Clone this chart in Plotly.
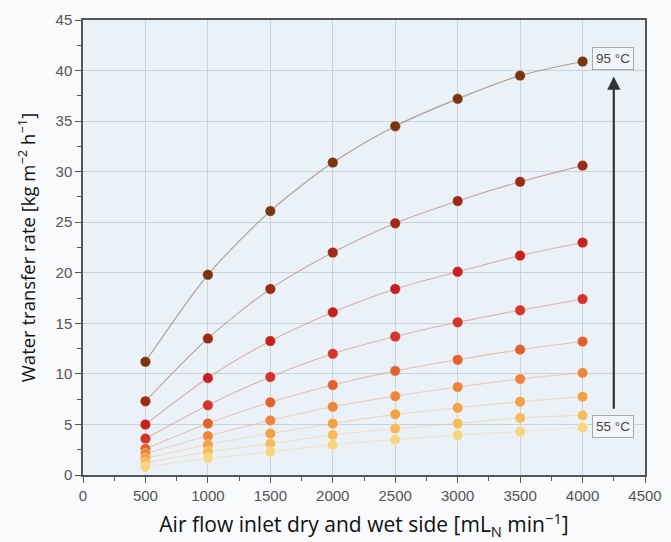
import plotly.graph_objects as go

air_flow = [500, 1000, 1500, 2000, 2500, 3000, 3500, 4000]
temperatures = ["95 °C", "90 °C", "85 °C", "80 °C", "75 °C", "70 °C", "65 °C", "60 °C", "55 °C"]
rate_95 = [11.2, 19.8, 26.1, 30.9, 34.5, 37.2, 39.5, 40.9]
rate_90 = [7.3, 13.5, 18.4, 22.0, 24.9, 27.1, 29.0, 30.6]
rate_85 = [5.0, 9.6, 13.25, 16.1, 18.4, 20.1, 21.7, 23.0]
rate_80 = [3.6, 6.9, 9.7, 12.0, 13.7, 15.1, 16.3, 17.4]
rate_75 = [2.6, 5.1, 7.2, 8.9, 10.3, 11.4, 12.4, 13.2]
rate_70 = [2.1, 3.85, 5.4, 6.75, 7.8, 8.7, 9.5, 10.1]
rate_65 = [1.65, 3.0, 4.1, 5.1, 6.0, 6.65, 7.25, 7.75]
rate_60 = [1.2, 2.3, 3.1, 3.95, 4.6, 5.1, 5.65, 5.9]
rate_55 = [0.8, 1.65, 2.3, 3.0, 3.5, 3.95, 4.3, 4.7]
series = [rate_95, rate_90, rate_85, rate_80, rate_75, rate_70, rate_65, rate_60, rate_55]

marker_colors = ["#7a3410", "#9c2a18", "#c4221e", "#d2352a", "#e0632e",
                 "#eb853a", "#f2a246", "#f6bb5c", "#f8d583"]
line_colors = ["rgba(150,110,80,0.65)", "rgba(170,90,80,0.5)", "rgba(200,90,90,0.45)",
               "rgba(215,100,90,0.45)", "rgba(230,130,90,0.45)", "rgba(240,150,100,0.4)",
               "rgba(245,175,110,0.4)", "rgba(247,190,120,0.4)", "rgba(248,205,140,0.4)"]

fig = go.Figure()
for name, vals, mc, lc in zip(temperatures, series, marker_colors, line_colors):
    fig.add_trace(go.Scatter(
        x=air_flow, y=vals, name=name, mode="lines+markers",
        line=dict(color=lc, width=1.1, shape="spline", smoothing=0.8),
        marker=dict(color=mc, size=10.5, line=dict(color="rgba(255,255,255,0.35)", width=1)),
        showlegend=False,
    ))

axis_common = dict(
    automargin=False,
    showline=True, linecolor="#555", linewidth=1.5, mirror=True,
    ticks="outside", ticklen=6, tickcolor="#555", tickwidth=1.2,
    showgrid=True, gridcolor="#c9d3dc", gridwidth=1, zeroline=False,
    tickfont=dict(family="Liberation Sans, Arial", size=15, color="#555"),
)

fig.update_xaxes(
    range=[0, 4500], dtick=500, tick0=0,
    minor=dict(ticks="outside", dtick=250, ticklen=4, tickcolor="#555", showgrid=False),
    title_text="Air flow inlet dry and wet side [mL<sub>N</sub> min<sup>−1</sup>]",
    title_font=dict(family="Open Sans, Noto Sans", size=21, color="#111"),
    **axis_common,
)
fig.update_yaxes(
    range=[0, 45], dtick=5, tick0=0,
    minor=dict(ticks="outside", dtick=2.5, ticklen=4, tickcolor="#555", showgrid=False),
    title_text="Water transfer rate [kg m<sup>−2</sup> h<sup>−1</sup>]",
    title_font=dict(family="Open Sans, Noto Sans", size=18.5, color="#111"),
    **axis_common,
)

fig.add_annotation(
    x=4250, y=39.4, ax=4250, ay=6.4, xref="x", yref="y", axref="x", ayref="y",
    showarrow=True, arrowhead=2, arrowsize=1.2, arrowwidth=2.2, arrowcolor="#333", text="",
)
for label, yv in [(temperatures[0], 41.2), (temperatures[-1], 4.75)]:
    fig.add_annotation(
        x=4240, y=yv, xref="x", yref="y", text=label, showarrow=False,
        font=dict(family="Liberation Sans, Arial", size=13.5, color="#444"),
        bgcolor="#f3f6f9", bordercolor="#aaa", borderwidth=1, borderpad=3,
    )

fig.update_layout(
    width=671, height=542,
    margin=dict(l=83, r=26, t=20, b=67),
    plot_bgcolor="#eaf2f8",
    paper_bgcolor="#f9fafb",
)

fig.write_html("out.html", config={"displayModeBar": False},
               post_script="document.body.style.margin='0';")
